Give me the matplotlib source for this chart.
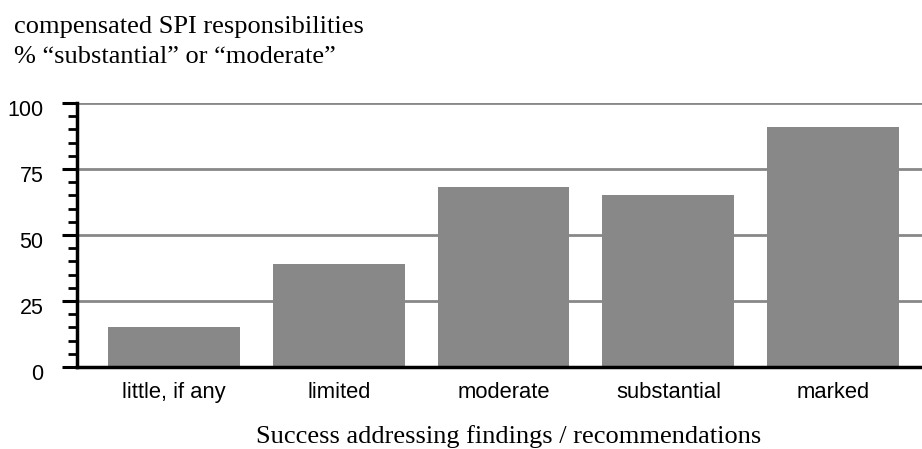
import matplotlib.pyplot as plt
from matplotlib.ticker import MultipleLocator
from matplotlib.transforms import ScaledTranslation

categories = ['little, if any', 'limited', 'moderate', 'substantial', 'marked']
values = [15, 39, 68, 65, 91]

fig = plt.figure(figsize=(9.22, 4.49), dpi=100)
ax = fig.add_axes([0.0835, 0.1826, 0.9165, 0.588])

ax.bar(range(len(categories)), values, width=0.8, color='#888888', zorder=2)
ax.set_xlim(-0.59, 4.54)
ax.set_ylim(0, 100)

ax.yaxis.set_major_locator(MultipleLocator(25))
ax.yaxis.set_minor_locator(MultipleLocator(5))
ax.grid(axis='y', which='major', color='#888888', linewidth=2, zorder=1)

for s in ['top', 'right']:
    ax.spines[s].set_visible(False)
for s in ['left', 'bottom']:
    ax.spines[s].set_linewidth(2.5)
    ax.spines[s].set_zorder(3)

ax.tick_params(axis='y', which='major', length=11, width=2.2, pad=13,
               labelsize=15.5, color='black')
ax.tick_params(axis='y', which='minor', length=6.5, width=2, color='black')
ax.tick_params(axis='x', length=0, pad=11, labelsize=15.8)
ax.set_xticks(range(len(categories)))
ax.set_xticklabels(categories, family='Liberation Sans')

# y labels sit a little below their ticks in the original
shift = ScaledTranslation(0, -4.5 / 100, fig.dpi_scale_trans)
for lab in ax.get_yticklabels():
    lab.set_family('Liberation Sans')
    lab.set_transform(lab.get_transform() + shift)

fig.text(0.5515, 0.0134, 'Success addressing findings / recommendations',
         family='Liberation Serif', fontsize=19, ha='center', va='baseline')

fig.text(0.015, 0.9265, 'compensated SPI responsibilities',
         family='Liberation Serif', fontsize=19, va='baseline', ha='left')
fig.text(0.015, 0.8597, '% \u201csubstantial\u201d or \u201cmoderate\u201d',
         family='Liberation Serif', fontsize=19, va='baseline', ha='left')

fig.savefig('out.png', dpi=100)
